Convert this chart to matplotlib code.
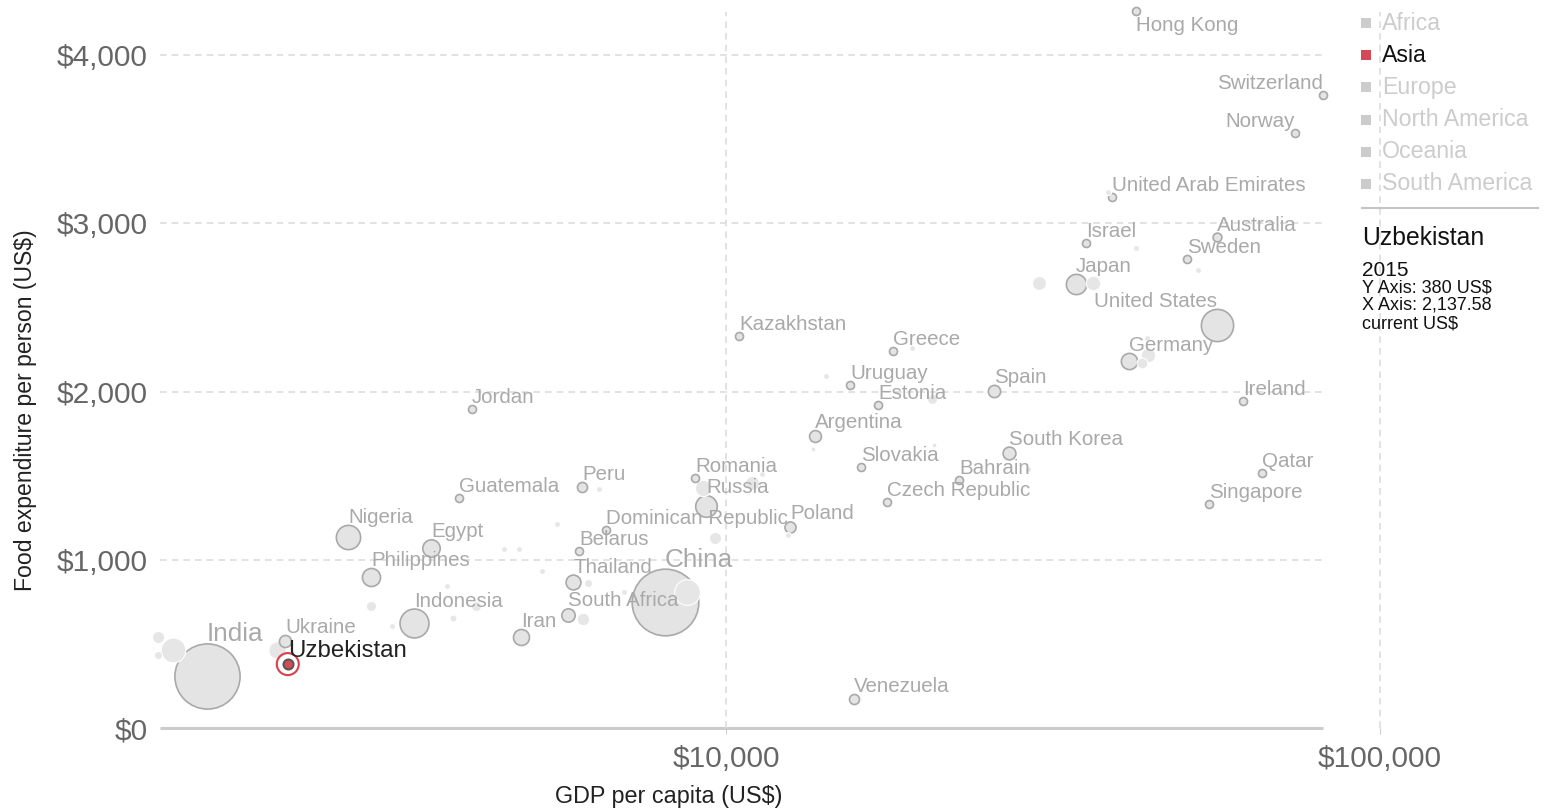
import numpy as np
import matplotlib
matplotlib.use("Agg")
import matplotlib.pyplot as plt
from matplotlib.patches import Rectangle

plt.rcParams["font.family"] = ["Liberation Sans", "DejaVu Sans"]

# labelled countries (2015): GDP per capita, food spend per person, population (millions)
countries = ["Hong Kong", "Switzerland", "Norway", "United Arab Emirates", "Israel",
             "Australia", "Sweden", "Japan", "United States", "Germany", "Ireland",
             "Spain", "South Korea", "Qatar", "Singapore", "Bahrain", "Czech Republic",
             "Slovakia", "Estonia", "Uruguay", "Greece", "Kazakhstan", "Argentina",
             "Poland", "Venezuela", "Romania", "Russia", "Dominican Republic", "Peru",
             "Belarus", "Thailand", "South Africa", "China", "Iran", "Indonesia",
             "Guatemala", "Jordan", "Egypt", "Nigeria", "Philippines", "Ukraine",
             "Uzbekistan", "India"]
gdp = [42360, 81770, 74130, 38920, 35510,
       56340, 50690, 34290, 56340, 41330, 61730,
       25690, 27090, 66000, 54770, 22710, 17630,
       16090, 17080, 15480, 18000, 10470, 13680,
       12530, 15690, 8966, 9320, 6555, 6023,
       5960, 5836, 5734, 8066, 4859, 3334,
       3905, 4089, 3539, 2642, 2866, 2117,
       2137.58, 1608]
food = [4263, 3763, 3537, 3157, 2883,
        2919, 2788, 2640, 2396, 2182, 1944,
        2003, 1635, 1516, 1332, 1474, 1344,
        1552, 1920, 2039, 2241, 2330, 1736,
        1195, 172, 1486, 1320, 1177, 1433,
        1052, 868, 672, 749, 541, 624,
        1367, 1896, 1070, 1135, 898, 517,
        380, 309]
pop = [7.3, 8.3, 5.2, 9.2, 8.4,
       23.8, 9.8, 127, 321, 81.7, 4.7,
       46.4, 50.6, 2.5, 5.5, 1.4, 10.5,
       5.4, 1.3, 3.4, 10.8, 17.5, 43.4,
       38, 31, 19.8, 144, 10.5, 31.4,
       9.5, 68, 55, 1371, 79, 258,
       16.3, 9.2, 93.8, 182, 101, 45,
       31.3, 1311]

# other (unlabelled) countries
other_gdp = [1354, 1427, 1354, 2058, 2866, 3086, 3745, 3825, 4147, 4576,
             4825, 5233, 5515, 6394, 6152, 6984, 6044, 8717, 9222, 10960,
             11350, 9620, 12440, 13590, 14220, 19250, 20650, 20800, 28960, 30100,
             36400, 42360, 52700, 43260, 44190, 44030, 38380]
other_food = [541, 464, 434, 464, 725, 606, 844, 654, 725, 1064,
              1064, 933, 1213, 1421, 862, 809, 648, 809, 1427, 1457,
              1510, 1130, 1147, 1659, 2093, 2259, 1956, 1682, 1540, 2646,
              2646, 2854, 2723, 2170, 2217, 2319, 3187]
other_pop = [46, 189, 20, 92, 32, 11, 11, 15, 32, 11,
             11, 11, 11, 11, 20, 11, 48, 205, 82, 63,
             11, 46, 11, 5, 11, 11, 31, 5, 11, 60,
             66, 11, 11, 36, 65, 11, 11]

regions = ["Africa", "Asia", "Europe", "North America", "Oceania", "South America"]
active_region = "Asia"
sel_country = "Uzbekistan"
sel_year = 2015
sel_food = 380
sel_gdp = 2137.58

W, H = 1545, 811
fig = plt.figure(figsize=(W / 100, H / 100), dpi=100)

# px helpers for the frame (x: log decade = 654px, $10k at px 726)
def px_to_gdp(px):
    return 10 ** (4 + (px - 726) / 654)

ax = fig.add_axes([160 / W, (H - 728) / H, (1400 - 160) / W, 728 / H])
ax.set_xscale("log")
ax.set_xlim(px_to_gdp(160), px_to_gdp(1400))
ax.set_ylim(0, 728 / 168.2 * 1000)
for s in ax.spines.values():
    s.set_visible(False)

grid_right = px_to_gdp(1323)
ax.hlines([1000, 2000, 3000, 4000], px_to_gdp(160), grid_right,
          colors="#dddddd", linestyles=(0, (4, 3)), linewidth=1.2, zorder=0)
ax.hlines([0], px_to_gdp(160), grid_right, colors="#cccccc", linewidth=2.2, zorder=0, clip_on=False)
ax.vlines([1e4, 1e5], 0, 4257, colors="#dddddd", linestyles=(0, (4, 3)), linewidth=1.2, zorder=0)

ax.set_yticks([0, 1000, 2000, 3000, 4000])
ax.set_yticklabels(["$0", "$1,000", "$2,000", "$3,000", "$4,000"])
ax.set_xticks([1e4, 1e5])
ax.set_xticklabels(["$10,000", "$100,000"])
ax.xaxis.set_minor_locator(matplotlib.ticker.NullLocator())
ax.tick_params(axis="y", length=0, pad=9, labelsize=21.5, labelcolor="#666666")
ax.tick_params(axis="x", length=4, color="#cccccc", pad=8, labelsize=21.5, labelcolor="#666666")

def radius(p, floor=4.0):
    return max(floor, 0.9 * np.sqrt(p))

# bubbles, biggest first
all_x = list(gdp) + list(other_gdp)
all_y = list(food) + list(other_food)
all_r = [radius(p) for p in pop] + [radius(p, 2.5) for p in other_pop]
labelled = [True] * len(gdp) + [False] * len(other_gdp)
order = np.argsort(all_r)[::-1]
sel_idx = countries.index(sel_country)
for i in order:
    r = all_r[i]
    if labelled[i]:
        fc, ec, lw = "#e4e4e4", "#a9a9a9", 1.2
        if i == sel_idx:
            fc, ec, lw = "#d24b57", "#555555", 1.4
    else:
        fc, ec, lw = "#e6e6e6", "white", 0.8
    ax.scatter([all_x[i]], [all_y[i]], s=(2 * r * 0.72) ** 2, facecolor=fc,
               edgecolor=ec, linewidth=lw, zorder=2, clip_on=False)

# selection ring
ax.scatter([sel_gdp], [sel_food], s=(2 * 11 * 0.72) ** 2, facecolor="none",
           edgecolor="#d9404c", linewidth=1.5, zorder=3)

right_labels = ["United States", "Switzerland", "Norway"]
below_labels = ["Hong Kong"]
big_labels = {"India": 18.8, "China": 18.8, "Uzbekistan": 17.3}
for i, name in enumerate(countries):
    r = all_r[i]
    fs = big_labels.get(name, 14.8)
    col = "#222222" if name == sel_country else "#a9a9a9"
    ha = "right" if name in right_labels else "left"
    if name in below_labels:
        off, va = -(r + 1) * 0.72, "top"
    else:
        off, va = (r + 2) * 0.72, "baseline"
    ax.annotate(name, (gdp[i], food[i]), xytext=(0, off), textcoords="offset points",
                ha=ha, va=va, fontsize=fs, color=col, zorder=5, annotation_clip=False)

fig.text(669 / W, 1 - 797 / H, "GDP per capita (US$)", ha="center", va="center",
         fontsize=16.8, color="#222222")
fig.text(26 / W, 1 - 410 / H, "Food expenditure per person (US$)", ha="center", va="center",
         rotation=90, fontsize=16.6, color="#222222")

# legend
for i, reg in enumerate(regions):
    yc = 23 + 32.2 * i
    col = "#d24b57" if reg == active_region else "#cccccc"
    tcol = "#111111" if reg == active_region else "#cccccc"
    fig.patches.append(Rectangle((1361 / W, 1 - (yc + 5) / H), 10 / W, 10 / H,
                                 transform=fig.transFigure, facecolor=col, edgecolor="none"))
    fig.text(1382 / W, 1 - yc / H, reg, ha="left", va="center", fontsize=16.7, color=tcol)

fig.add_artist(plt.Line2D([1362 / W, 1538 / W], [1 - 208 / H, 1 - 208 / H],
                          color="#c4c4c4", linewidth=1.5, transform=fig.transFigure))

fig.text(1362 / W, 1 - 245 / H, sel_country, ha="left", va="baseline", fontsize=17.8, color="#111111")
fig.text(1362 / W, 1 - 276 / H, str(sel_year), ha="left", va="baseline", fontsize=15, color="#111111")
fig.text(1362 / W, 1 - 292 / H, f"Y Axis: {sel_food} US$", ha="left", va="baseline",
         fontsize=13, color="#111111")
fig.text(1362 / W, 1 - 310 / H, f"X Axis: {sel_gdp:,.2f}", ha="left", va="baseline",
         fontsize=13, color="#111111")
fig.text(1362 / W, 1 - 328 / H, "current US$", ha="left", va="baseline", fontsize=13, color="#111111")

fig.savefig("out.png", dpi=100)
